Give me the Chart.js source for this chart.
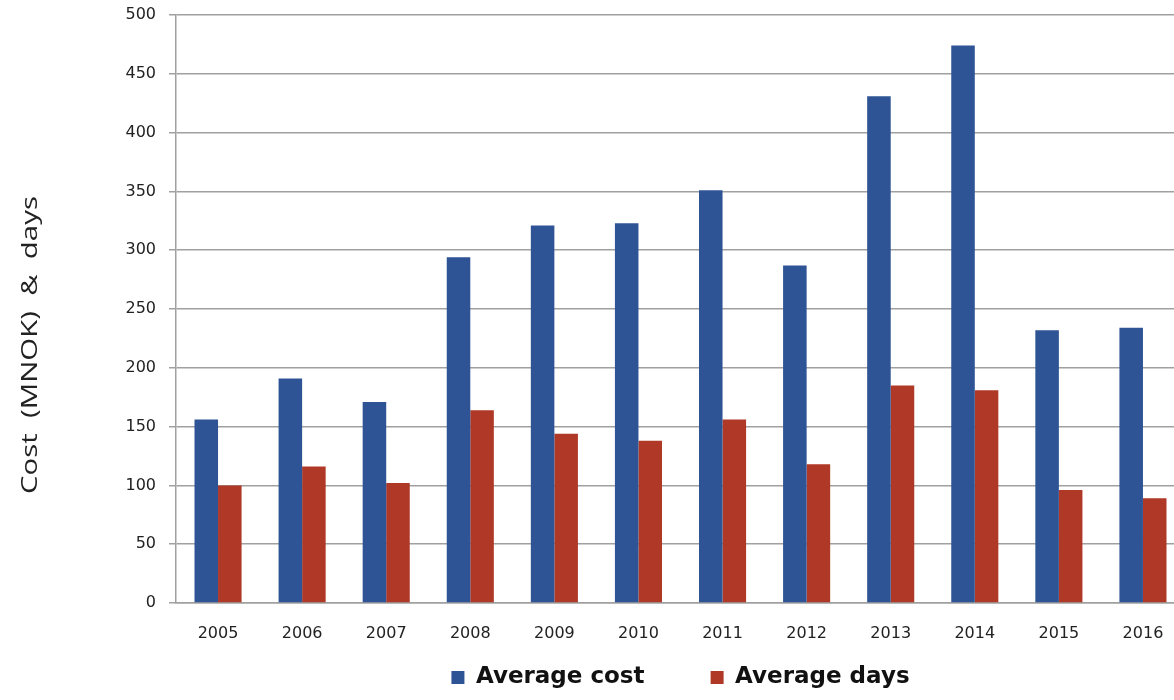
<!DOCTYPE html>
<html>
<head>
<meta charset="utf-8">
<script src="https://cdn.jsdelivr.net/npm/chart.js@4.4.0/dist/chart.umd.min.js"></script>
<style>
  html, body { margin: 0; padding: 0; background: #fff; overflow: hidden; }
  #wrap { position: absolute; left: 0; top: 0; width: 1185px; height: 700px; }
</style>
</head>
<body>
<div id="wrap"><canvas id="cost-chart" width="1185" height="700"></canvas></div>
<script>
const years = ['2005', '2006', '2007', '2008', '2009', '2010', '2011', '2012', '2013', '2014', '2015', '2016'];
const averageCost = [156, 191, 171, 294, 321, 323, 351, 287, 431, 474, 232, 234];
const averageDays = [100, 116, 102, 164, 144, 138, 156, 118, 185, 181, 96, 89];
const yTicks = [0, 50, 100, 150, 200, 250, 300, 350, 400, 450, 500];
const yTitle = 'Cost  (MNOK)  &  days';

// legend height is fixed so the plot bottom lands where it should
const legendHeightPlugin = {
    id: 'legendHeight',
    beforeInit(chart) {
        const fit = chart.legend.fit;
        chart.legend.fit = function () {
            fit.call(this);
            this.height = 44;
        };
    }
};

// y axis title drawn by hand, it sits lower than the plot centre and is stretched
const yTitlePlugin = {
    id: 'yTitle',
    afterDraw(chart) {
        const ctx = chart.ctx;
        ctx.save();
        ctx.translate(31, 345);
        ctx.rotate(-Math.PI / 2);
        ctx.scale(1.4, 1);
        ctx.font = '21px "Open Sans"';
        ctx.fillStyle = '#222';
        ctx.textAlign = 'center';
        ctx.textBaseline = 'middle';
        ctx.fillText(yTitle, 0, 0);
        ctx.restore();
    }
};

new Chart(document.querySelector('#cost-chart').getContext('2d'), {
    type: 'bar',
    data: {
        labels: years,
        datasets: [{
            label: 'Average cost',
            data: averageCost,
            backgroundColor: '#2E5495',
            borderWidth: 0
        }, {
            label: 'Average days',
            data: averageDays,
            backgroundColor: '#B03826',
            borderWidth: 0
        }]
    },
    options: {
        responsive: false,
        animation: false,
        layout: { padding: { left: 0, right: 0, top: 15, bottom: 0 } },
        categoryPercentage: 0.56,
        barPercentage: 1.0,
        scales: {
            x: {
                grid: { display: false },
                border: { display: true, color: '#A0A0A0', width: 1.5 },
                ticks: { color: '#222', font: { family: 'DejaVu Sans', size: 16 }, padding: 13 },
                afterFit(scale) { scale.height = 53; }
            },
            y: {
                min: 0,
                max: 500,
                afterBuildTicks(scale) { scale.ticks = yTicks.map(v => ({ value: v })); },
                grid: { color: '#A0A0A0', lineWidth: 1.5, tickLength: 7 },
                border: { display: true, color: '#A0A0A0', width: 1.5 },
                ticks: { color: '#222', font: { family: 'DejaVu Sans', size: 16 }, padding: 13 },
                afterFit(scale) {
                    scale.width = 176;
                    scale.paddingTop = 0;
                    scale.paddingBottom = 0;
                }
            }
        },
        plugins: {
            legend: {
                position: 'bottom',
                fullSize: false,
                labels: {
                    color: '#111',
                    font: { family: 'DejaVu Sans', size: 23, weight: 'bold' },
                    boxWidth: 13,
                    boxHeight: 13,
                    padding: 10,
                    generateLabels(chart) {
                        const items = Chart.defaults.plugins.legend.labels.generateLabels(chart);
                        // wide gap between the two entries
                        items[0].text = items[0].text + '       ';
                        return items;
                    }
                }
            },
            tooltip: { enabled: false }
        }
    },
    plugins: [legendHeightPlugin, yTitlePlugin]
});
</script>
</body>
</html>
